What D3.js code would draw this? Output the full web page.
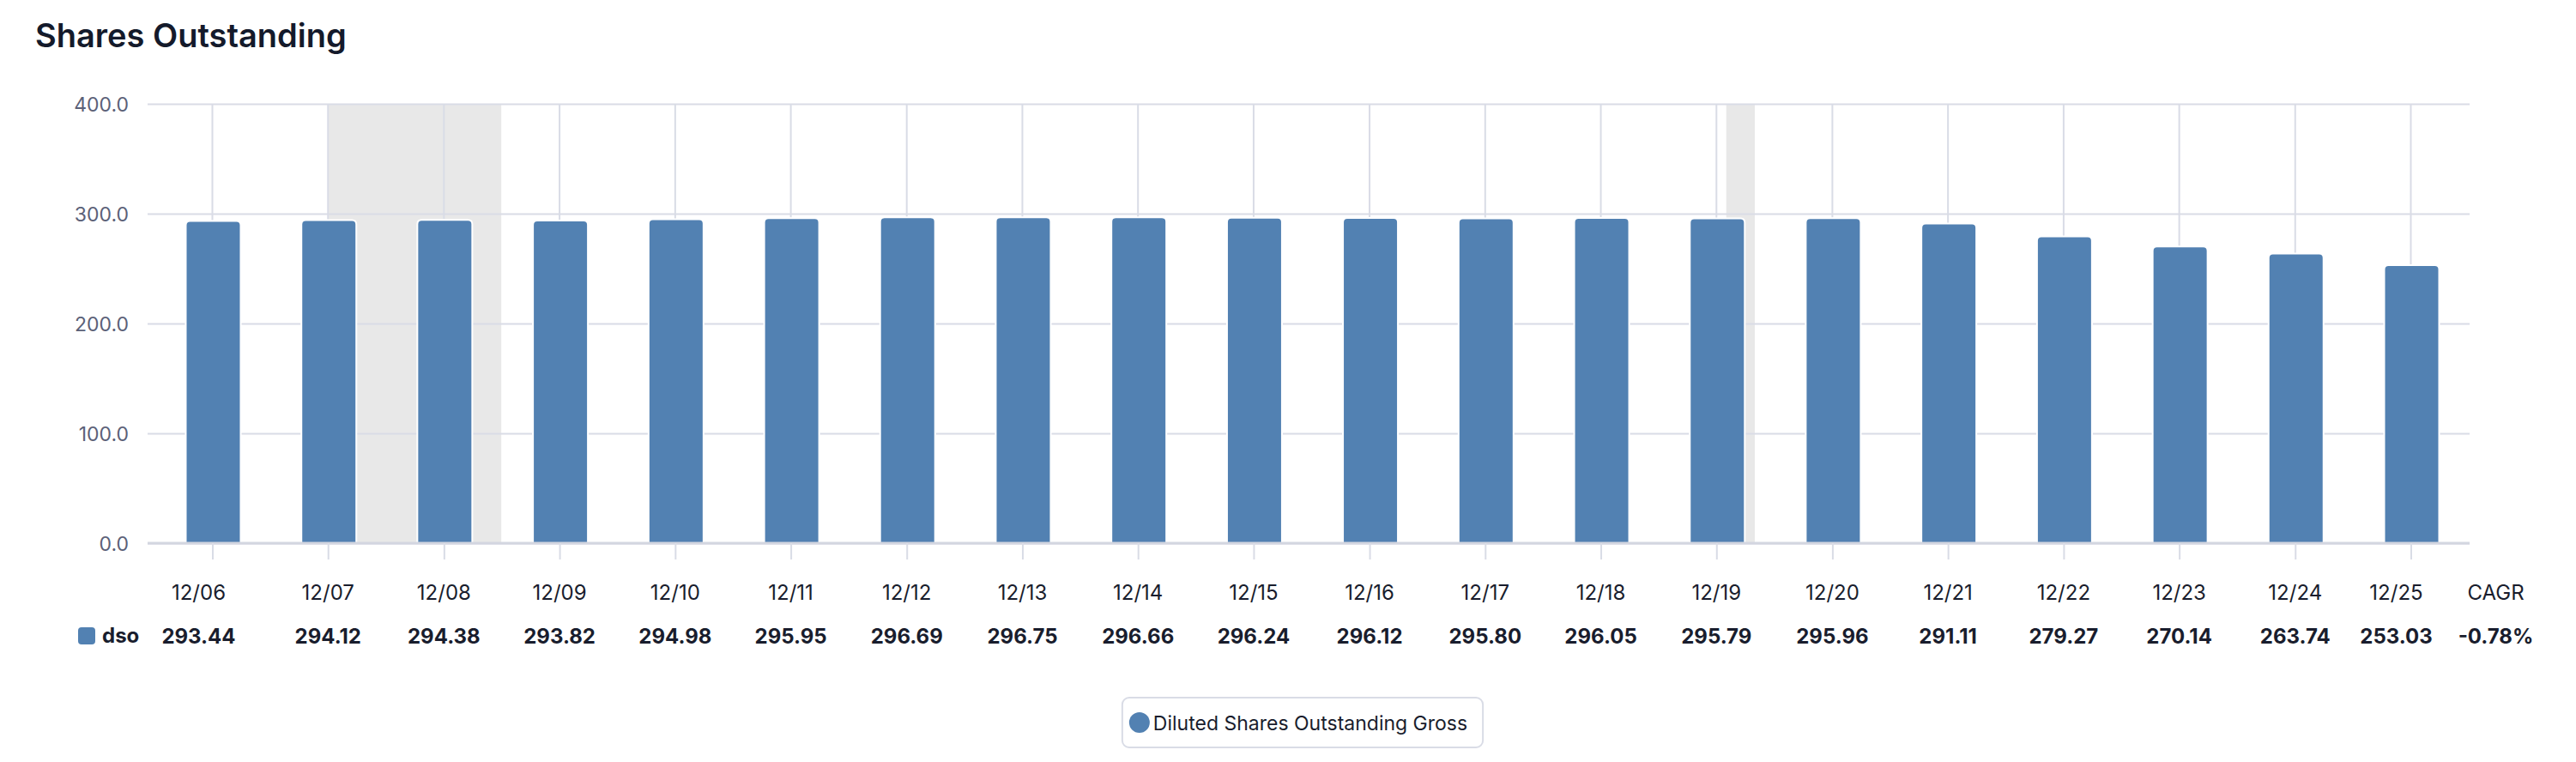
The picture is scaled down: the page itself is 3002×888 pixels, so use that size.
<!DOCTYPE html>
<html>
<head>
<meta charset="utf-8">
<script src="https://cdn.jsdelivr.net/npm/d3@7"></script>
<style>
  body { margin: 0; background: #fff; }
  svg { display: block; font-family: Inter, "Noto Sans", sans-serif; }
</style>
</head>
<body>
<svg id="chart" width="3002" height="888"></svg>
<script>
// data
const periods = ['12/06', '12/07', '12/08', '12/09', '12/10', '12/11', '12/12', '12/13', '12/14', '12/15',
  '12/16', '12/17', '12/18', '12/19', '12/20', '12/21', '12/22', '12/23', '12/24', '12/25'];
const dso = [293.44, 294.12, 294.38, 293.82, 294.98, 295.95, 296.69, 296.75, 296.66, 296.24,
  296.12, 295.80, 296.05, 295.79, 295.96, 291.11, 279.27, 270.14, 263.74, 253.03];
const recessionStarts = ['2007-12-31', '2020-01-31'];
const recessionEnds = ['2009-06-30', '2020-04-30'];
const yTicks = [0, 100, 200, 300, 400];
const seriesName = 'Diluted Shares Outstanding Gross';
const seriesKey = 'dso';

const barColor = '#5281b2';
const gridColor = '#d9dce6';
const textDark = '#191d2d';

// plain hyphen for negatives, like the source table
const fmt = d3.formatLocale({ decimal: '.', thousands: ',', grouping: [3], currency: ['$', ''], minus: '-' });

const parse = d3.timeParse('%Y-%m-%d');
const dates = periods.map(p => new Date(2000 + +p.slice(3), 11, 31));

const plotLeft = 172, plotRight = 2878, plotTop = 121, plotBottom = 633;

const svg = d3.select('#chart');

const x = d3.scaleTime()
  .domain([dates[0], dates[dates.length - 1]])
  .range([247.5, 2809.5]);

const y = d3.scaleLinear()
  .domain([0, 400])
  .range([plotBottom, plotTop]);

// title
svg.append('text')
  .attr('x', 41)
  .attr('y', 55)
  .attr('font-size', 38)
  .attr('font-weight', 600)
  .attr('fill', '#141a2b')
  .text('Shares Outstanding');

// recession bands
svg.append('g')
  .selectAll('rect')
  .data(recessionStarts.map((s, i) => [parse(s), parse(recessionEnds[i])]))
  .enter()
  .append('rect')
  .attr('x', d => x(d[0]))
  .attr('width', d => x(d[1]) - x(d[0]))
  .attr('y', plotTop)
  .attr('height', plotBottom - plotTop)
  .attr('fill', '#e8e8e8');

// horizontal grid + y labels
const yAxis = svg.append('g')
  .attr('transform', `translate(${plotLeft},0)`)
  .call(d3.axisLeft(y)
    .tickValues(yTicks)
    .tickSize(-(plotRight - plotLeft))
    .tickPadding(22)
    .tickFormat(fmt.format('.1f')));
yAxis.select('.domain').remove();
yAxis.selectAll('line').attr('stroke', gridColor).attr('stroke-width', 2);
yAxis.selectAll('text')
  .attr('font-size', 23)
  .attr('font-family', 'Inter, sans-serif')
  .attr('fill', '#5b6178')
  .attr('dy', '0.38em');

// vertical grid lines
svg.append('g')
  .selectAll('line')
  .data(dates)
  .enter()
  .append('line')
  .attr('x1', d => x(d))
  .attr('x2', d => x(d))
  .attr('y1', plotTop)
  .attr('y2', plotBottom)
  .attr('stroke', gridColor)
  .attr('stroke-width', 2);

// bars with rounded tops
function topRounded(x0, y0, w, h, r) {
  return `M${x0},${y0 + h}V${y0 + r}Q${x0},${y0} ${x0 + r},${y0}H${x0 + w - r}Q${x0 + w},${y0} ${x0 + w},${y0 + r}V${y0 + h}Z`;
}
const barW = 64;
svg.append('g')
  .selectAll('path')
  .data(dso)
  .enter()
  .append('path')
  .attr('d', (d, i) => topRounded(x(dates[i]) - barW / 2 + 1, y(d), barW, plotBottom - y(d), 5))
  .attr('fill', barColor)
  .attr('stroke', '#fff')
  .attr('stroke-width', 2);

// baseline + ticks
svg.append('line')
  .attr('x1', plotLeft).attr('x2', plotRight)
  .attr('y1', plotBottom).attr('y2', plotBottom)
  .attr('stroke', '#d3d6e0')
  .attr('stroke-width', 3);

const xAxis = svg.append('g')
  .attr('transform', `translate(0,${plotBottom})`)
  .call(d3.axisBottom(x).tickValues(dates).tickSize(19).tickFormat(''));
xAxis.select('.domain').remove();
xAxis.selectAll('line').attr('stroke', gridColor).attr('stroke-width', 2);

// table rows under the axis
const shift = i => i === 0 ? -16 : (i === periods.length - 1 ? -17 : 0);

svg.append('g')
  .selectAll('text')
  .data(periods)
  .enter()
  .append('text')
  .attr('x', (d, i) => x(dates[i]) + shift(i))
  .attr('y', 699)
  .attr('text-anchor', 'middle')
  .attr('font-size', 24)
  .attr('fill', textDark)
  .text(d => d);

svg.append('g')
  .selectAll('text')
  .data(dso)
  .enter()
  .append('text')
  .attr('x', (d, i) => x(dates[i]) + shift(i))
  .attr('y', 750)
  .attr('text-anchor', 'middle')
  .attr('font-size', 24)
  .attr('font-weight', 700)
  .attr('fill', textDark)
  .text(d => fmt.format('.2f')(d));

const years = periods.length - 1;
const cagr = Math.pow(dso[dso.length - 1] / dso[0], 1 / years) - 1;

svg.append('text')
  .attr('x', 2908.5).attr('y', 699)
  .attr('text-anchor', 'middle')
  .attr('font-size', 24)
  .attr('fill', textDark)
  .text('CAGR');
svg.append('text')
  .attr('x', 2908.5).attr('y', 750)
  .attr('text-anchor', 'middle')
  .attr('font-size', 24)
  .attr('font-weight', 700)
  .attr('fill', textDark)
  .text(fmt.format('.2%')(cagr));

svg.append('rect')
  .attr('x', 91).attr('y', 731)
  .attr('width', 20).attr('height', 20)
  .attr('rx', 4)
  .attr('fill', barColor);
svg.append('text')
  .attr('x', 119).attr('y', 749)
  .attr('font-size', 24)
  .attr('font-weight', 700)
  .attr('fill', textDark)
  .text(seriesKey);

// legend
const legend = svg.append('g');
const legendBox = legend.append('rect')
  .attr('y', 813)
  .attr('height', 58)
  .attr('rx', 8)
  .attr('fill', '#fff')
  .attr('stroke', gridColor)
  .attr('stroke-width', 2);
const legendDot = legend.append('circle')
  .attr('cy', 842)
  .attr('r', 12)
  .attr('fill', barColor);
const legendText = legend.append('text')
  .attr('y', 851)
  .attr('font-size', 23)
  .attr('fill', textDark)
  .text(seriesName);

const tw = legendText.node().getComputedTextLength();
const boxW = 8 + 24 + 4 + tw + 18;
const boxX = 1518 - boxW / 2;
legendBox.attr('x', boxX).attr('width', boxW);
legendDot.attr('cx', boxX + 8 + 12);
legendText.attr('x', boxX + 36);
</script>
</body>
</html>
